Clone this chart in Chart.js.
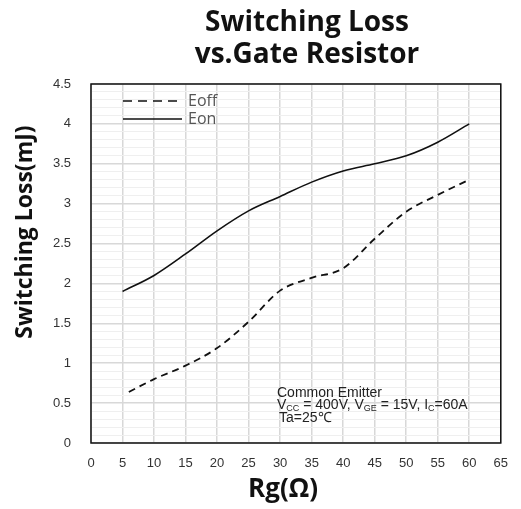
<!DOCTYPE html>
<html>
<head>
<meta charset="utf-8">
<script src="https://cdn.jsdelivr.net/npm/chart.js@4"></script>
<style>
  html, body { margin: 0; padding: 0; background: #fff; }
  #wrap { width: 521px; height: 509px; }
</style>
</head>
<body>
<div id="wrap"><canvas id="lossChart" width="521" height="509"></canvas></div>
<script>
// values
const rgOn = [5, 10, 15, 20, 25, 30, 35, 40, 45, 50, 55, 60];
const eOn = [1.90, 2.10, 2.37, 2.66, 2.91, 3.09, 3.27, 3.41, 3.50, 3.60, 3.77, 4.00];
const rgOff = [6, 10, 15, 20, 25, 30, 35, 40, 45, 50, 55, 60];
const eOff = [0.64, 0.80, 0.97, 1.19, 1.52, 1.91, 2.07, 2.19, 2.56, 2.90, 3.11, 3.30];

const titleLines = ['Switching Loss', 'vs.Gate Resistor'];
const yTitle = 'Switching Loss(mJ)';
const xTitle = 'Rg(Ω)';
const seriesNames = ['Eoff', 'Eon'];

const toPoints = (xs, ys) => xs.map((x, i) => ({ x: x, y: ys[i] }));

// titles, legend, notes and plot frame
const decorations = {
    id: 'decorations',
    afterDatasetsDraw(chart) {
        const ctx = chart.ctx;
        const a = chart.chartArea;
        ctx.save();
        ctx.strokeStyle = '#111';
        ctx.lineWidth = 1.5;
        ctx.setLineDash([]);
        ctx.strokeRect(a.left, a.top, a.right - a.left, a.bottom - a.top);

        // legend inside the plot
        ctx.lineWidth = 1.5;
        ctx.strokeStyle = '#111';
        ctx.setLineDash([9, 6]);
        ctx.beginPath(); ctx.moveTo(123, 101); ctx.lineTo(182, 101); ctx.stroke();
        ctx.setLineDash([]);
        ctx.beginPath(); ctx.moveTo(123, 119); ctx.lineTo(182, 119); ctx.stroke();
        ctx.fillStyle = '#555';
        ctx.font = '16px "Open Sans"';
        ctx.textBaseline = 'middle';
        ctx.textAlign = 'left';
        ctx.fillText(seriesNames[0], 188, 101);
        ctx.fillText(seriesNames[1], 188, 119);

        // test conditions
        ctx.fillStyle = '#222';
        ctx.font = '14px "Liberation Sans"';
        ctx.fillText('Common Emitter', 277, 393);
        let x = 277;
        const y2 = 405;
        const parts = [['V', 0], ['CC', 1], [' = 400V, V', 0], ['GE', 1], [' = 15V, I', 0], ['C', 1], ['=60A', 0]];
        parts.forEach(p => {
            ctx.font = p[1] ? '9px "Liberation Sans"' : '14px "Liberation Sans"';
            ctx.fillText(p[0], x, p[1] ? y2 + 4 : y2);
            x += ctx.measureText(p[0]).width;
        });
        ctx.font = '14px "Liberation Sans"';
        ctx.fillText('Ta=25℃', 279, 418);

        // chart title
        ctx.fillStyle = '#111';
        ctx.textAlign = 'center';
        ctx.font = 'bold 28px "Open Sans"';
        ctx.fillText(titleLines[0], 307, 23);
        ctx.fillText(titleLines[1], 307, 55);

        // axis titles
        ctx.font = 'bold 26px "Open Sans"';
        ctx.fillText(xTitle, 283, 490);
        ctx.translate(25, 232);
        ctx.rotate(-Math.PI / 2);
        ctx.font = 'bold 23px "Open Sans"';
        ctx.fillText(yTitle, 0, 0);
        ctx.restore();
    }
};

new Chart(document.getElementById('lossChart').getContext('2d'), {
    type: 'line',
    data: {
        datasets: [{
            label: seriesNames[0],
            data: toPoints(rgOff, eOff),
            borderColor: '#111',
            borderWidth: 1.8,
            borderDash: [7, 5],
            pointRadius: 0,
            cubicInterpolationMode: 'monotone',
            fill: false
        }, {
            label: seriesNames[1],
            data: toPoints(rgOn, eOn),
            borderColor: '#111',
            borderWidth: 1.6,
            pointRadius: 0,
            cubicInterpolationMode: 'monotone',
            fill: false
        }]
    },
    options: {
        responsive: false,
        animation: false,
        layout: { padding: { left: 0, right: 11, top: 84, bottom: 0 } },
        plugins: {
            legend: { display: false },
            title: { display: false },
            tooltip: { enabled: false }
        },
        scales: {
            x: {
                type: 'linear',
                min: 0,
                max: 65,
                ticks: {
                    stepSize: 5,
                    padding: 13,
                    color: '#333',
                    font: { family: 'Liberation Sans', size: 13 }
                },
                grid: { color: '#d8d8d8', lineWidth: 1.5, drawTicks: false },
                border: { display: false },
                afterFit(scale) { scale.height = 66; }
            },
            y: {
                min: 0,
                max: 4.5,
                ticks: {
                    stepSize: 0.1,
                    autoSkip: false,
                    padding: 20,
                    color: '#333',
                    font: { family: 'Liberation Sans', size: 13 },
                    callback: v => (Math.round(v * 10) % 5 === 0) ? String(Math.round(v * 10) / 10) : ''
                },
                grid: {
                    drawTicks: false,
                    color: c => (Math.round(c.tick.value * 10) % 5 === 0) ? '#d8d8d8' : '#efefef',
                    lineWidth: c => (Math.round(c.tick.value * 10) % 5 === 0) ? 1.5 : 1
                },
                border: { display: false },
                afterFit(scale) { scale.width = 91; }
            }
        }
    },
    plugins: [decorations]
});
</script>
</body>
</html>
